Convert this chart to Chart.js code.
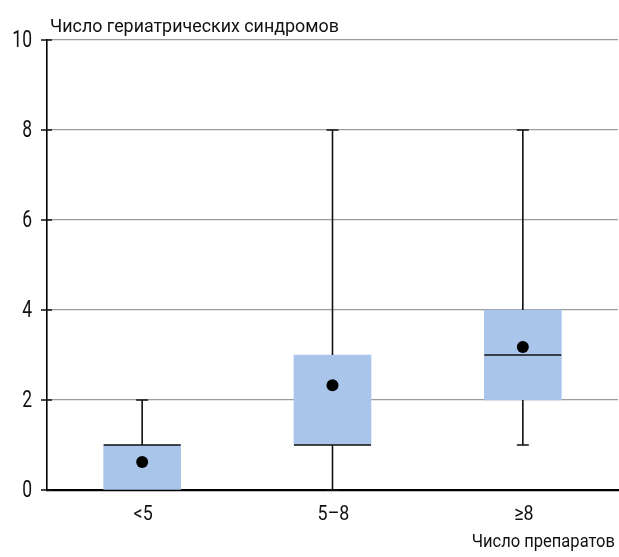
<!DOCTYPE html>
<html>
<head>
<meta charset="utf-8">
<script src="https://cdn.jsdelivr.net/npm/chart.js@4"></script>
<style>
  html, body { margin: 0; padding: 0; background: #fff; }
  #wrap { width: 619px; height: 557px; }
</style>
</head>
<body>
<div id="wrap"><canvas id="c" width="619" height="557"></canvas></div>
<script>
// Number of drugs groups and distribution of geriatric syndromes
const categories = ['<5', '5–8', '≥8'];
const whiskerLow = [0, 0, 1];
const q1 = [0, 1, 2];
const median = [1, 1, 3];
const q3 = [1, 3, 4];
const whiskerHigh = [2, 8, 8];
const means = [0.62, 2.33, 3.18];
const yTicks = [0, 2, 4, 6, 8, 10];
const yCaption = 'Число гериатрических синдромов';
const xCaption = 'Число препаратов';

const FONT = 'Roboto, "Liberation Sans", sans-serif';

// Draws narrow (horizontally squeezed) text
function narrowText(ctx, text, x, y, size, squeeze, align, baseline) {
  ctx.save();
  ctx.font = size + 'px ' + FONT;
  ctx.fillStyle = '#111';
  ctx.textAlign = align;
  ctx.textBaseline = baseline;
  ctx.translate(x, y);
  ctx.scale(squeeze, 1);
  ctx.fillText(text, 0, 0);
  ctx.restore();
}

// Whiskers, caps and medians drawn right after the boxes, before the mean dots
const boxExtras = {
  id: 'boxExtras',
  afterDatasetDraw(chart, args) {
    if (args.index !== 0) return;
    const ctx = chart.ctx;
    const x = chart.scales.x, y = chart.scales.y;
    const bars = chart.getDatasetMeta(0).data;
    ctx.save();
    ctx.strokeStyle = '#111';
    ctx.lineWidth = 1.6;
    categories.forEach((c, i) => {
      const cx = x.getPixelForValue(i);
      const half = bars[i].width / 2;
      const capHalf = 6;
      ctx.beginPath();
      if (whiskerHigh[i] > q3[i]) {
        ctx.moveTo(cx, y.getPixelForValue(q3[i]));
        ctx.lineTo(cx, y.getPixelForValue(whiskerHigh[i]));
        ctx.moveTo(cx - capHalf, y.getPixelForValue(whiskerHigh[i]));
        ctx.lineTo(cx + capHalf, y.getPixelForValue(whiskerHigh[i]));
      }
      if (whiskerLow[i] < q1[i]) {
        ctx.moveTo(cx, y.getPixelForValue(q1[i]));
        ctx.lineTo(cx, y.getPixelForValue(whiskerLow[i]));
        ctx.moveTo(cx - capHalf, y.getPixelForValue(whiskerLow[i]));
        ctx.lineTo(cx + capHalf, y.getPixelForValue(whiskerLow[i]));
      }
      const my = y.getPixelForValue(median[i]);
      ctx.moveTo(cx - half, my);
      ctx.lineTo(cx + half, my);
      ctx.stroke();
    });
    ctx.restore();
  }
};

// Axis tick marks, tick labels and captions in a narrow face
const axisText = {
  id: 'axisText',
  afterDraw(chart) {
    const ctx = chart.ctx;
    const x = chart.scales.x, y = chart.scales.y;
    const area = chart.chartArea;
    ctx.save();
    ctx.strokeStyle = '#111';
    ctx.lineWidth = 1.6;
    ctx.beginPath();
    yTicks.forEach(v => {
      const py = y.getPixelForValue(v);
      ctx.moveTo(area.left - 6, py);
      ctx.lineTo(area.left + 5, py);
    });
    ctx.stroke();
    ctx.restore();

    yTicks.forEach(v => {
      narrowText(ctx, String(v), area.left - 15, y.getPixelForValue(v) + 1, 23, 0.76, 'right', 'middle');
    });
    categories.forEach((c, i) => {
      narrowText(ctx, c, x.getPixelForValue(i) + 1, area.bottom + 25, 21, 0.85, 'center', 'middle');
    });
    narrowText(ctx, yCaption, area.left + 3, area.top - 8, 19, 0.94, 'left', 'alphabetic');
    narrowText(ctx, xCaption, area.right - 3, area.bottom + 57, 19, 0.87, 'right', 'alphabetic');
  }
};

new Chart(document.getElementById('c'), {
  type: 'bar',
  data: {
    labels: categories,
    datasets: [
      {
        label: 'IQR',
        data: q1.map((v, i) => [v, q3[i]]),
        backgroundColor: '#a9c5ea',
        borderWidth: 0,
        barThickness: 77,
        order: 2
      },
      {
        type: 'line',
        label: 'mean',
        data: means,
        showLine: false,
        pointRadius: 6,
        pointBackgroundColor: '#000',
        pointBorderColor: '#000',
        pointBorderWidth: 0,
        order: 1
      }
    ]
  },
  options: {
    responsive: false,
    animation: false,
    layout: { autoPadding: false, padding: { top: 40, right: 1, left: 0, bottom: 0 } },
    plugins: { legend: { display: false }, tooltip: { enabled: false } },
    scales: {
      x: {
        grid: { display: false, drawTicks: false },
        border: { color: '#000', width: 2.2 },
        ticks: { display: false },
        afterFit(s) { s.height = 67; }
      },
      y: {
        min: 0,
        max: 10,
        afterBuildTicks(s) { s.ticks = yTicks.map(v => ({ value: v })); },
        grid: {
          color: (c) => (c.tick && c.tick.value === 0) ? 'rgba(0,0,0,0)' : '#9c9c9c',
          lineWidth: 1.3,
          drawTicks: false
        },
        border: { color: '#000', width: 1.6 },
        ticks: { display: false },
        afterFit(s) { s.width = 47; }
      }
    }
  },
  plugins: [boxExtras, axisText]
});
</script>
</body>
</html>
